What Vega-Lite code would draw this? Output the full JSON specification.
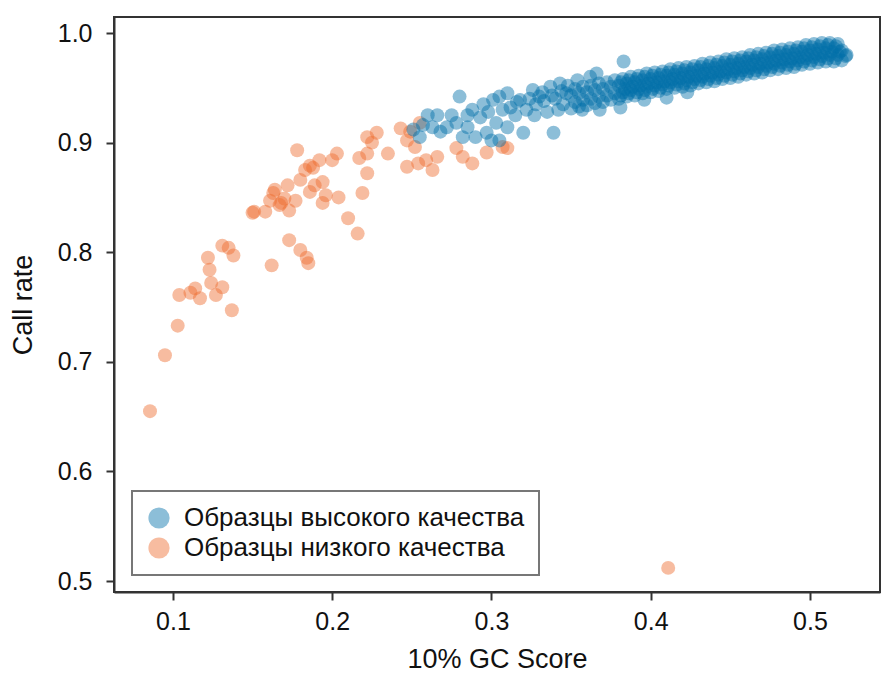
{
  "$schema": "https://vega.github.io/schema/vega-lite/v6.json",
  "autosize": {"type": "none"},
  "padding": {"left": 114, "top": 17, "right": 3, "bottom": 85},
  "width": 766,
  "height": 575,
  "background": "white",
  "config": {
    "view": {"stroke": "#333333", "strokeWidth": 2},
    "font": "Liberation Sans",
    "axis": {
      "grid": false,
      "domainColor": "#333333",
      "domainWidth": 2,
      "tickColor": "#333333",
      "tickWidth": 2,
      "tickSize": 8,
      "labelFont": "Liberation Sans",
      "labelFontSize": 25,
      "labelColor": "#111111",
      "titleFont": "Liberation Sans",
      "titleFontSize": 27,
      "titleFontWeight": "normal",
      "titleColor": "#111111"
    },
    "legend": {
      "strokeColor": "#777777",
      "strokeWidth": 2,
      "fillColor": "white",
      "padding": 14,
      "labelFont": "Liberation Sans",
      "labelFontSize": 26,
      "labelColor": "#111111",
      "symbolSize": 450,
      "symbolType": "circle",
      "symbolStrokeWidth": 0,
      "symbolOpacity": 0.45,
      "labelOffset": 12,
      "rowPadding": 4,
      "labelLimit": 500
    }
  },
  "data": {
    "values": [
      {"g":0.0856,"c":0.655,"q":"l"},{"g":0.095,"c":0.706,"q":"l"},{"g":0.103,"c":0.733,"q":"l"},{"g":0.104,"c":0.761,"q":"l"},
      {"g":0.111,"c":0.763,"q":"l"},{"g":0.114,"c":0.767,"q":"l"},{"g":0.117,"c":0.758,"q":"l"},{"g":0.122,"c":0.795,"q":"l"},
      {"g":0.123,"c":0.784,"q":"l"},{"g":0.124,"c":0.772,"q":"l"},{"g":0.127,"c":0.761,"q":"l"},{"g":0.131,"c":0.806,"q":"l"},
      {"g":0.135,"c":0.804,"q":"l"},{"g":0.138,"c":0.797,"q":"l"},{"g":0.137,"c":0.747,"q":"l"},{"g":0.131,"c":0.768,"q":"l"},
      {"g":0.151,"c":0.837,"q":"l"},{"g":0.158,"c":0.837,"q":"l"},{"g":0.161,"c":0.847,"q":"l"},{"g":0.164,"c":0.857,"q":"l"},
      {"g":0.167,"c":0.843,"q":"l"},{"g":0.170,"c":0.849,"q":"l"},{"g":0.173,"c":0.838,"q":"l"},{"g":0.177,"c":0.847,"q":"l"},
      {"g":0.178,"c":0.893,"q":"l"},{"g":0.172,"c":0.861,"q":"l"},{"g":0.180,"c":0.866,"q":"l"},{"g":0.183,"c":0.875,"q":"l"},
      {"g":0.186,"c":0.879,"q":"l"},{"g":0.189,"c":0.861,"q":"l"},{"g":0.192,"c":0.884,"q":"l"},{"g":0.194,"c":0.864,"q":"l"},
      {"g":0.196,"c":0.852,"q":"l"},{"g":0.173,"c":0.811,"q":"l"},{"g":0.180,"c":0.802,"q":"l"},{"g":0.184,"c":0.795,"q":"l"},
      {"g":0.185,"c":0.790,"q":"l"},{"g":0.162,"c":0.788,"q":"l"},{"g":0.203,"c":0.890,"q":"l"},{"g":0.204,"c":0.850,"q":"l"},
      {"g":0.194,"c":0.845,"q":"l"},{"g":0.210,"c":0.831,"q":"l"},{"g":0.216,"c":0.817,"q":"l"},{"g":0.222,"c":0.905,"q":"l"},
      {"g":0.225,"c":0.900,"q":"l"},{"g":0.222,"c":0.890,"q":"l"},{"g":0.228,"c":0.909,"q":"l"},{"g":0.217,"c":0.886,"q":"l"},
      {"g":0.222,"c":0.872,"q":"l"},{"g":0.219,"c":0.854,"q":"l"},{"g":0.235,"c":0.890,"q":"l"},{"g":0.243,"c":0.913,"q":"l"},
      {"g":0.247,"c":0.902,"q":"l"},{"g":0.249,"c":0.910,"q":"l"},{"g":0.252,"c":0.896,"q":"l"},{"g":0.255,"c":0.918,"q":"l"},
      {"g":0.247,"c":0.878,"q":"l"},{"g":0.254,"c":0.881,"q":"l"},{"g":0.259,"c":0.884,"q":"l"},{"g":0.263,"c":0.875,"q":"l"},
      {"g":0.266,"c":0.887,"q":"l"},{"g":0.278,"c":0.895,"q":"l"},{"g":0.282,"c":0.887,"q":"l"},{"g":0.288,"c":0.881,"q":"l"},
      {"g":0.297,"c":0.891,"q":"l"},{"g":0.307,"c":0.896,"q":"l"},{"g":0.310,"c":0.895,"q":"l"},{"g":0.411,"c":0.512,"q":"l"},
      {"g":0.200,"c":0.884,"q":"l"},{"g":0.188,"c":0.877,"q":"l"},{"g":0.163,"c":0.854,"q":"l"},{"g":0.168,"c":0.845,"q":"l"},
      {"g":0.186,"c":0.855,"q":"l"},{"g":0.150,"c":0.836,"q":"l"},
      {"g":0.280,"c":0.942,"q":"h"},{"g":0.266,"c":0.925,"q":"h"},{"g":0.263,"c":0.914,"q":"h"},{"g":0.257,"c":0.916,"q":"h"},
      {"g":0.255,"c":0.905,"q":"h"},{"g":0.272,"c":0.914,"q":"h"},{"g":0.278,"c":0.918,"q":"h"},{"g":0.285,"c":0.914,"q":"h"},
      {"g":0.288,"c":0.930,"q":"h"},{"g":0.293,"c":0.923,"q":"h"},{"g":0.282,"c":0.905,"q":"h"},{"g":0.290,"c":0.905,"q":"h"},
      {"g":0.301,"c":0.939,"q":"h"},{"g":0.305,"c":0.942,"q":"h"},{"g":0.307,"c":0.930,"q":"h"},{"g":0.303,"c":0.918,"q":"h"},
      {"g":0.312,"c":0.932,"q":"h"},{"g":0.310,"c":0.914,"q":"h"},{"g":0.320,"c":0.909,"q":"h"},{"g":0.318,"c":0.939,"q":"h"},
      {"g":0.326,"c":0.948,"q":"h"},{"g":0.330,"c":0.942,"q":"h"},{"g":0.339,"c":0.909,"q":"h"},{"g":0.337,"c":0.951,"q":"h"},
      {"g":0.343,"c":0.954,"q":"h"},{"g":0.347,"c":0.945,"q":"h"},{"g":0.357,"c":0.930,"q":"h"},{"g":0.354,"c":0.957,"q":"h"},
      {"g":0.362,"c":0.960,"q":"h"},{"g":0.366,"c":0.963,"q":"h"},{"g":0.297,"c":0.909,"q":"h"},{"g":0.300,"c":0.902,"q":"h"},
      {"g":0.305,"c":0.902,"q":"h"},{"g":0.315,"c":0.925,"q":"h"},{"g":0.322,"c":0.930,"q":"h"},{"g":0.328,"c":0.935,"q":"h"},
      {"g":0.333,"c":0.938,"q":"h"},{"g":0.335,"c":0.928,"q":"h"},{"g":0.340,"c":0.940,"q":"h"},{"g":0.345,"c":0.935,"q":"h"},
      {"g":0.310,"c":0.945,"q":"h"},{"g":0.298,"c":0.928,"q":"h"},{"g":0.295,"c":0.935,"q":"h"},{"g":0.285,"c":0.925,"q":"h"},
      {"g":0.275,"c":0.925,"q":"h"},{"g":0.268,"c":0.910,"q":"h"},{"g":0.260,"c":0.925,"q":"h"},{"g":0.251,"c":0.912,"q":"h"},
      {"g":0.368,"c":0.930,"q":"h"},{"g":0.381,"c":0.932,"q":"h"},{"g":0.396,"c":0.939,"q":"h"},{"g":0.383,"c":0.974,"q":"h"},
      {"g":0.410,"c":0.941,"q":"h"},{"g":0.423,"c":0.946,"q":"h"},
      {"g":0.316,"c":0.937,"q":"h"},{"g":0.324,"c":0.940,"q":"h"},{"g":0.332,"c":0.946,"q":"h"},{"g":0.338,"c":0.943,"q":"h"},
      {"g":0.344,"c":0.947,"q":"h"},{"g":0.348,"c":0.952,"q":"h"},{"g":0.327,"c":0.925,"q":"h"},{"g":0.342,"c":0.930,"q":"h"},
      {"g":0.350,"c":0.931,"q":"h"},{"g":0.3525,"c":0.937,"q":"h"},{"g":0.350,"c":0.943,"q":"h"},{"g":0.3525,"c":0.949,"q":"h"},
      {"g":0.355,"c":0.933,"q":"h"},{"g":0.3575,"c":0.939,"q":"h"},{"g":0.355,"c":0.945,"q":"h"},{"g":0.3575,"c":0.951,"q":"h"},
      {"g":0.360,"c":0.934,"q":"h"},{"g":0.3625,"c":0.940,"q":"h"},{"g":0.360,"c":0.946,"q":"h"},{"g":0.3625,"c":0.952,"q":"h"},
      {"g":0.365,"c":0.936,"q":"h"},{"g":0.3675,"c":0.942,"q":"h"},{"g":0.365,"c":0.948,"q":"h"},{"g":0.3675,"c":0.954,"q":"h"},
      {"g":0.370,"c":0.937,"q":"h"},{"g":0.3725,"c":0.943,"q":"h"},{"g":0.370,"c":0.949,"q":"h"},{"g":0.3725,"c":0.955,"q":"h"},
      {"g":0.375,"c":0.939,"q":"h"},{"g":0.3775,"c":0.945,"q":"h"},{"g":0.375,"c":0.951,"q":"h"},{"g":0.3775,"c":0.957,"q":"h"},
      {"g":0.380,"c":0.940,"q":"h"},{"g":0.3825,"c":0.946,"q":"h"},{"g":0.380,"c":0.952,"q":"h"},{"g":0.3825,"c":0.958,"q":"h"},
      {"g":0.385,"c":0.942,"q":"h"},{"g":0.3875,"c":0.948,"q":"h"},{"g":0.385,"c":0.954,"q":"h"},{"g":0.3875,"c":0.960,"q":"h"},
      {"g":0.390,"c":0.943,"q":"h"},{"g":0.3925,"c":0.949,"q":"h"},{"g":0.390,"c":0.955,"q":"h"},{"g":0.3925,"c":0.961,"q":"h"},
      {"g":0.395,"c":0.945,"q":"h"},{"g":0.3975,"c":0.951,"q":"h"},{"g":0.395,"c":0.957,"q":"h"},{"g":0.3975,"c":0.963,"q":"h"},
      {"g":0.400,"c":0.946,"q":"h"},{"g":0.4025,"c":0.952,"q":"h"},{"g":0.400,"c":0.958,"q":"h"},{"g":0.4025,"c":0.964,"q":"h"},
      {"g":0.405,"c":0.947,"q":"h"},{"g":0.4075,"c":0.953,"q":"h"},{"g":0.405,"c":0.959,"q":"h"},{"g":0.4075,"c":0.965,"q":"h"},
      {"g":0.410,"c":0.949,"q":"h"},{"g":0.4125,"c":0.955,"q":"h"},{"g":0.410,"c":0.961,"q":"h"},{"g":0.4125,"c":0.967,"q":"h"},
      {"g":0.415,"c":0.950,"q":"h"},{"g":0.4175,"c":0.956,"q":"h"},{"g":0.415,"c":0.962,"q":"h"},{"g":0.4175,"c":0.968,"q":"h"},
      {"g":0.420,"c":0.951,"q":"h"},{"g":0.4225,"c":0.957,"q":"h"},{"g":0.420,"c":0.963,"q":"h"},{"g":0.4225,"c":0.969,"q":"h"},
      {"g":0.425,"c":0.952,"q":"h"},{"g":0.4275,"c":0.958,"q":"h"},{"g":0.425,"c":0.964,"q":"h"},{"g":0.4275,"c":0.970,"q":"h"},
      {"g":0.430,"c":0.954,"q":"h"},{"g":0.4325,"c":0.960,"q":"h"},{"g":0.430,"c":0.966,"q":"h"},{"g":0.4325,"c":0.972,"q":"h"},
      {"g":0.435,"c":0.955,"q":"h"},{"g":0.4375,"c":0.961,"q":"h"},{"g":0.435,"c":0.967,"q":"h"},{"g":0.4375,"c":0.973,"q":"h"},
      {"g":0.440,"c":0.956,"q":"h"},{"g":0.4425,"c":0.962,"q":"h"},{"g":0.440,"c":0.968,"q":"h"},{"g":0.4425,"c":0.974,"q":"h"},
      {"g":0.445,"c":0.958,"q":"h"},{"g":0.4475,"c":0.964,"q":"h"},{"g":0.445,"c":0.970,"q":"h"},{"g":0.4475,"c":0.976,"q":"h"},
      {"g":0.450,"c":0.959,"q":"h"},{"g":0.4525,"c":0.965,"q":"h"},{"g":0.450,"c":0.971,"q":"h"},{"g":0.4525,"c":0.977,"q":"h"},
      {"g":0.455,"c":0.960,"q":"h"},{"g":0.4575,"c":0.966,"q":"h"},{"g":0.455,"c":0.972,"q":"h"},{"g":0.4575,"c":0.978,"q":"h"},
      {"g":0.460,"c":0.962,"q":"h"},{"g":0.4625,"c":0.968,"q":"h"},{"g":0.460,"c":0.974,"q":"h"},{"g":0.4625,"c":0.980,"q":"h"},
      {"g":0.465,"c":0.963,"q":"h"},{"g":0.4675,"c":0.969,"q":"h"},{"g":0.465,"c":0.975,"q":"h"},{"g":0.4675,"c":0.981,"q":"h"},
      {"g":0.470,"c":0.964,"q":"h"},{"g":0.4725,"c":0.970,"q":"h"},{"g":0.470,"c":0.976,"q":"h"},{"g":0.4725,"c":0.982,"q":"h"},
      {"g":0.475,"c":0.966,"q":"h"},{"g":0.4775,"c":0.972,"q":"h"},{"g":0.475,"c":0.978,"q":"h"},{"g":0.4775,"c":0.984,"q":"h"},
      {"g":0.480,"c":0.967,"q":"h"},{"g":0.4825,"c":0.973,"q":"h"},{"g":0.480,"c":0.979,"q":"h"},{"g":0.4825,"c":0.985,"q":"h"},
      {"g":0.485,"c":0.968,"q":"h"},{"g":0.4875,"c":0.974,"q":"h"},{"g":0.485,"c":0.980,"q":"h"},{"g":0.4875,"c":0.986,"q":"h"},
      {"g":0.490,"c":0.969,"q":"h"},{"g":0.4925,"c":0.975,"q":"h"},{"g":0.490,"c":0.981,"q":"h"},{"g":0.4925,"c":0.987,"q":"h"},
      {"g":0.495,"c":0.971,"q":"h"},{"g":0.4975,"c":0.977,"q":"h"},{"g":0.495,"c":0.983,"q":"h"},{"g":0.4975,"c":0.989,"q":"h"},
      {"g":0.500,"c":0.972,"q":"h"},{"g":0.5025,"c":0.978,"q":"h"},{"g":0.500,"c":0.984,"q":"h"},{"g":0.5025,"c":0.990,"q":"h"},
      {"g":0.505,"c":0.973,"q":"h"},{"g":0.5075,"c":0.979,"q":"h"},{"g":0.505,"c":0.985,"q":"h"},{"g":0.5075,"c":0.991,"q":"h"},
      {"g":0.510,"c":0.974,"q":"h"},{"g":0.5125,"c":0.980,"q":"h"},{"g":0.510,"c":0.986,"q":"h"},{"g":0.5125,"c":0.991,"q":"h"},
      {"g":0.515,"c":0.974,"q":"h"},{"g":0.5175,"c":0.980,"q":"h"},{"g":0.515,"c":0.986,"q":"h"},{"g":0.5175,"c":0.990,"q":"h"},
      {"g":0.520,"c":0.975,"q":"h"},{"g":0.5225,"c":0.979,"q":"h"},{"g":0.520,"c":0.984,"q":"h"},{"g":0.523,"c":0.980,"q":"h"},
      {"g":0.38125,"c":0.943,"q":"h"},{"g":0.38375,"c":0.949,"q":"h"},{"g":0.38125,"c":0.955,"q":"h"},
      {"g":0.38625,"c":0.945,"q":"h"},{"g":0.38875,"c":0.951,"q":"h"},{"g":0.38625,"c":0.957,"q":"h"},
      {"g":0.39125,"c":0.946,"q":"h"},{"g":0.39375,"c":0.952,"q":"h"},{"g":0.39125,"c":0.958,"q":"h"},
      {"g":0.39625,"c":0.948,"q":"h"},{"g":0.39875,"c":0.954,"q":"h"},{"g":0.39625,"c":0.960,"q":"h"},
      {"g":0.40125,"c":0.949,"q":"h"},{"g":0.40375,"c":0.955,"q":"h"},{"g":0.40125,"c":0.961,"q":"h"},
      {"g":0.40625,"c":0.950,"q":"h"},{"g":0.40875,"c":0.956,"q":"h"},{"g":0.40625,"c":0.962,"q":"h"},
      {"g":0.41125,"c":0.952,"q":"h"},{"g":0.41375,"c":0.958,"q":"h"},{"g":0.41125,"c":0.964,"q":"h"},
      {"g":0.41625,"c":0.953,"q":"h"},{"g":0.41875,"c":0.959,"q":"h"},{"g":0.41625,"c":0.965,"q":"h"},
      {"g":0.42125,"c":0.954,"q":"h"},{"g":0.42375,"c":0.960,"q":"h"},{"g":0.42125,"c":0.966,"q":"h"},
      {"g":0.42625,"c":0.955,"q":"h"},{"g":0.42875,"c":0.961,"q":"h"},{"g":0.42625,"c":0.967,"q":"h"},
      {"g":0.43125,"c":0.957,"q":"h"},{"g":0.43375,"c":0.963,"q":"h"},{"g":0.43125,"c":0.969,"q":"h"},
      {"g":0.43625,"c":0.958,"q":"h"},{"g":0.43875,"c":0.964,"q":"h"},{"g":0.43625,"c":0.970,"q":"h"},
      {"g":0.44125,"c":0.959,"q":"h"},{"g":0.44375,"c":0.965,"q":"h"},{"g":0.44125,"c":0.971,"q":"h"},
      {"g":0.44625,"c":0.961,"q":"h"},{"g":0.44875,"c":0.967,"q":"h"},{"g":0.44625,"c":0.973,"q":"h"},
      {"g":0.45125,"c":0.962,"q":"h"},{"g":0.45375,"c":0.968,"q":"h"},{"g":0.45125,"c":0.974,"q":"h"},
      {"g":0.45625,"c":0.963,"q":"h"},{"g":0.45875,"c":0.969,"q":"h"},{"g":0.45625,"c":0.975,"q":"h"},
      {"g":0.46125,"c":0.965,"q":"h"},{"g":0.46375,"c":0.971,"q":"h"},{"g":0.46125,"c":0.977,"q":"h"},
      {"g":0.46625,"c":0.966,"q":"h"},{"g":0.46875,"c":0.972,"q":"h"},{"g":0.46625,"c":0.978,"q":"h"},
      {"g":0.47125,"c":0.967,"q":"h"},{"g":0.47375,"c":0.973,"q":"h"},{"g":0.47125,"c":0.979,"q":"h"},
      {"g":0.47625,"c":0.969,"q":"h"},{"g":0.47875,"c":0.975,"q":"h"},{"g":0.47625,"c":0.981,"q":"h"},
      {"g":0.48125,"c":0.970,"q":"h"},{"g":0.48375,"c":0.976,"q":"h"},{"g":0.48125,"c":0.982,"q":"h"},
      {"g":0.48625,"c":0.971,"q":"h"},{"g":0.48875,"c":0.977,"q":"h"},{"g":0.48625,"c":0.983,"q":"h"},
      {"g":0.49125,"c":0.972,"q":"h"},{"g":0.49375,"c":0.978,"q":"h"},{"g":0.49125,"c":0.984,"q":"h"},
      {"g":0.49625,"c":0.974,"q":"h"},{"g":0.49875,"c":0.980,"q":"h"},{"g":0.49625,"c":0.986,"q":"h"},
      {"g":0.50125,"c":0.975,"q":"h"},{"g":0.50375,"c":0.981,"q":"h"},{"g":0.50125,"c":0.987,"q":"h"},
      {"g":0.50625,"c":0.976,"q":"h"},{"g":0.50875,"c":0.982,"q":"h"},{"g":0.50625,"c":0.988,"q":"h"},
      {"g":0.51125,"c":0.977,"q":"h"},{"g":0.51375,"c":0.983,"q":"h"},{"g":0.51125,"c":0.989,"q":"h"},
      {"g":0.51625,"c":0.977,"q":"h"},{"g":0.51875,"c":0.983,"q":"h"},{"g":0.51625,"c":0.988,"q":"h"}
    ]
  },
  "mark": {"type": "circle", "size": 195, "opacity": 0.45},
  "encoding": {
    "x": {
      "field": "g", "type": "quantitative", "title": "10% GC Score",
      "scale": {"domain": [0.063, 0.544], "nice": false, "zero": false},
      "axis": {"values": [0.1, 0.2, 0.3, 0.4, 0.5], "format": ".1f", "labelPadding": 9, "titlePadding": 12}
    },
    "y": {
      "field": "c", "type": "quantitative", "title": "Call rate",
      "scale": {"domain": [0.49, 1.0146], "nice": false, "zero": false},
      "axis": {"values": [0.5, 0.6, 0.7, 0.8, 0.9, 1.0], "format": ".1f", "labelPadding": 14, "titlePadding": 20}
    },
    "color": {
      "field": "q", "type": "nominal",
      "scale": {"domain": ["h", "l"], "range": ["#006ea8", "#ee6a2c"]},
      "legend": {
        "title": null, "orient": "none", "legendX": 18, "legendY": 474,
        "labelExpr": "datum.value == 'h' ? 'Образцы высокого качества' : 'Образцы низкого качества'"
      }
    }
  }
}
